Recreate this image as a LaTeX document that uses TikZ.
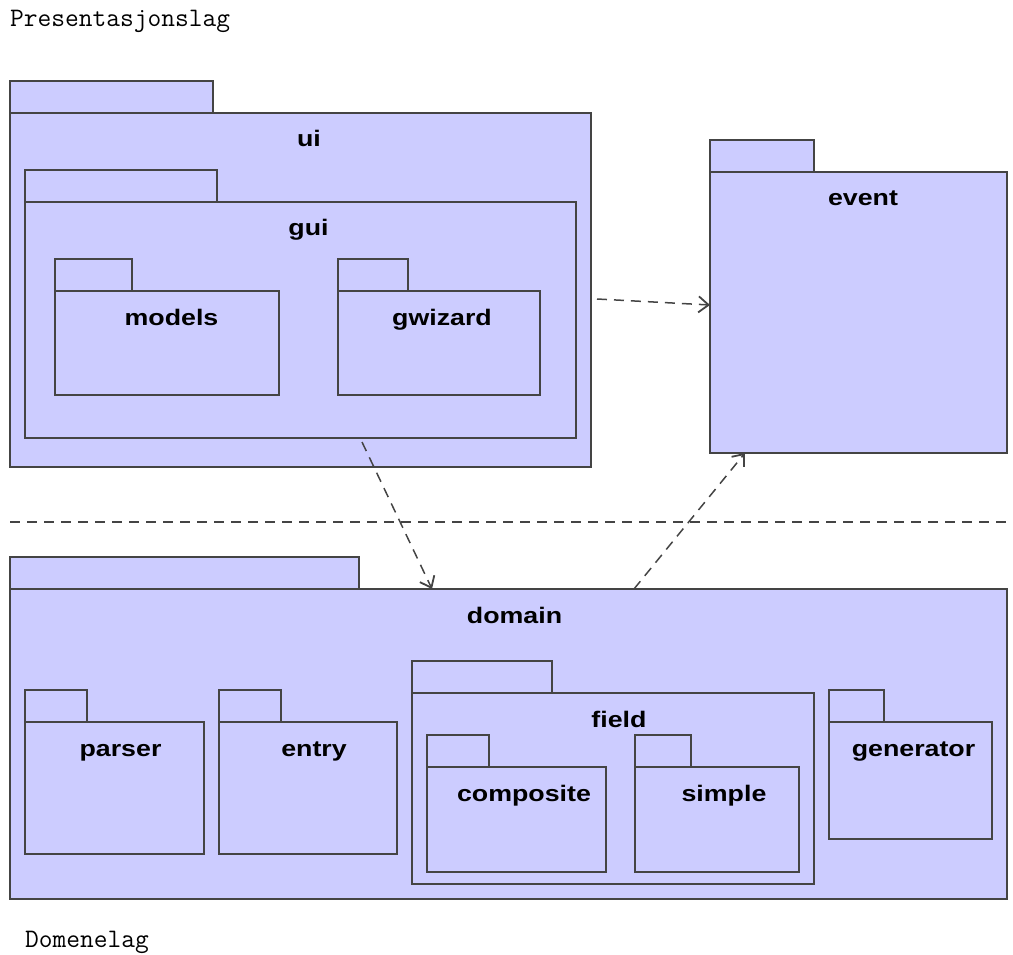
\documentclass[tikz,border=0pt]{standalone}
\usepackage{fontspec}
\usetikzlibrary{arrows.meta}
\newfontfamily\pkgfont{Liberation Sans}[FakeStretch=1.19]
\definecolor{pkgfill}{RGB}{204,204,255}
\definecolor{linecol}{RGB}{68,68,68}

% UML package: #1 name, #2 left x, #3 body top y, #4 tab width,
% #5 body width, #6 body height, #7 label x, #8 label text
\newcommand\umlpkg[8]{%
  \node[pkgtab, minimum width=#4pt, anchor=south west] (#1-tab) at (#2,#3) {};
  \node[pkgbody, minimum width=#5pt, minimum height=#6pt] (#1) at (#2,#3) {};
  \node[pkglabel] (#1-label) at (#7,#3+34) {#8};
}

\begin{document}
\begin{tikzpicture}[x=1pt,y=-1pt,
  pkgbody/.style={draw=linecol, fill=pkgfill, line width=1.9pt,
    inner sep=0pt, outer sep=0pt, anchor=north west},
  pkgtab/.style={draw=linecol, fill=pkgfill, line width=1.9pt,
    inner sep=0pt, outer sep=0pt, minimum height=32pt},
  pkglabel/.style={anchor=base, inner sep=0pt,
    font=\pkgfont\bfseries\fontsize{22.5}{25}\selectfont},
  layer/.style={anchor=base west, inner sep=0pt,
    font=\ttfamily\fontsize{26.7}{30}\selectfont},
  dep/.style={draw=linecol, line width=1.5pt, dash pattern=on 10pt off 7pt,
    -{Straight Barb[length=10pt,width=16pt,line width=1.8pt]}},
  divider/.style={draw=linecol, line width=1.5pt, dash pattern=on 10pt off 7pt}]
  \useasboundingbox (0,0) rectangle (1013,955);

  % layer captions
  \node[layer] (top-layer) at (10,27) {Presentasjonslag};
  \node[layer] (bottom-layer) at (25,947) {Domenelag};

  % presentation layer
  \umlpkg{ui}{10}{113}{203}{581}{354}{309}{ui}
  \umlpkg{gui}{25}{202}{192}{551}{236}{308.5}{gui}
  \umlpkg{models}{55}{291}{77}{224}{104}{171.5}{models}
  \umlpkg{gwizard}{338}{291}{70}{202}{104}{442}{gwizard}
  \umlpkg{event}{710}{172}{104}{297}{281}{863}{event}

  % layer boundary
  \coordinate (div-l) at (10,522);
  \coordinate (div-r) at (1007,522);
  \draw[divider] (div-l) -- (div-r);

  % domain layer
  \umlpkg{domain}{10}{589}{349}{997}{310}{514.5}{domain}
  \umlpkg{parser}{25}{722}{62}{179}{132}{120.5}{parser}
  \umlpkg{entry}{219}{722}{62}{178}{132}{314}{entry}
  \umlpkg{field}{412}{693}{140}{402}{191}{619}{field}
  \umlpkg{composite}{427}{767}{62}{179}{105}{524}{composite}
  \umlpkg{simple}{635}{767}{56}{164}{105}{724}{simple}
  \umlpkg{generator}{829}{722}{55}{163}{117}{913.5}{generator}

  % dependencies
  \draw[dep] ([xshift=6pt,yshift=-9pt]ui.east) -- ([yshift=7.5pt]event.west);
  \draw[dep] ([xshift=61.5pt,yshift=-4pt]gui.south) -- ([xshift=-76.5pt]domain.north);
  \draw[dep] ([xshift=125.5pt]domain.north) -- ([xshift=-113.5pt]event.south);
\end{tikzpicture}
\end{document}
